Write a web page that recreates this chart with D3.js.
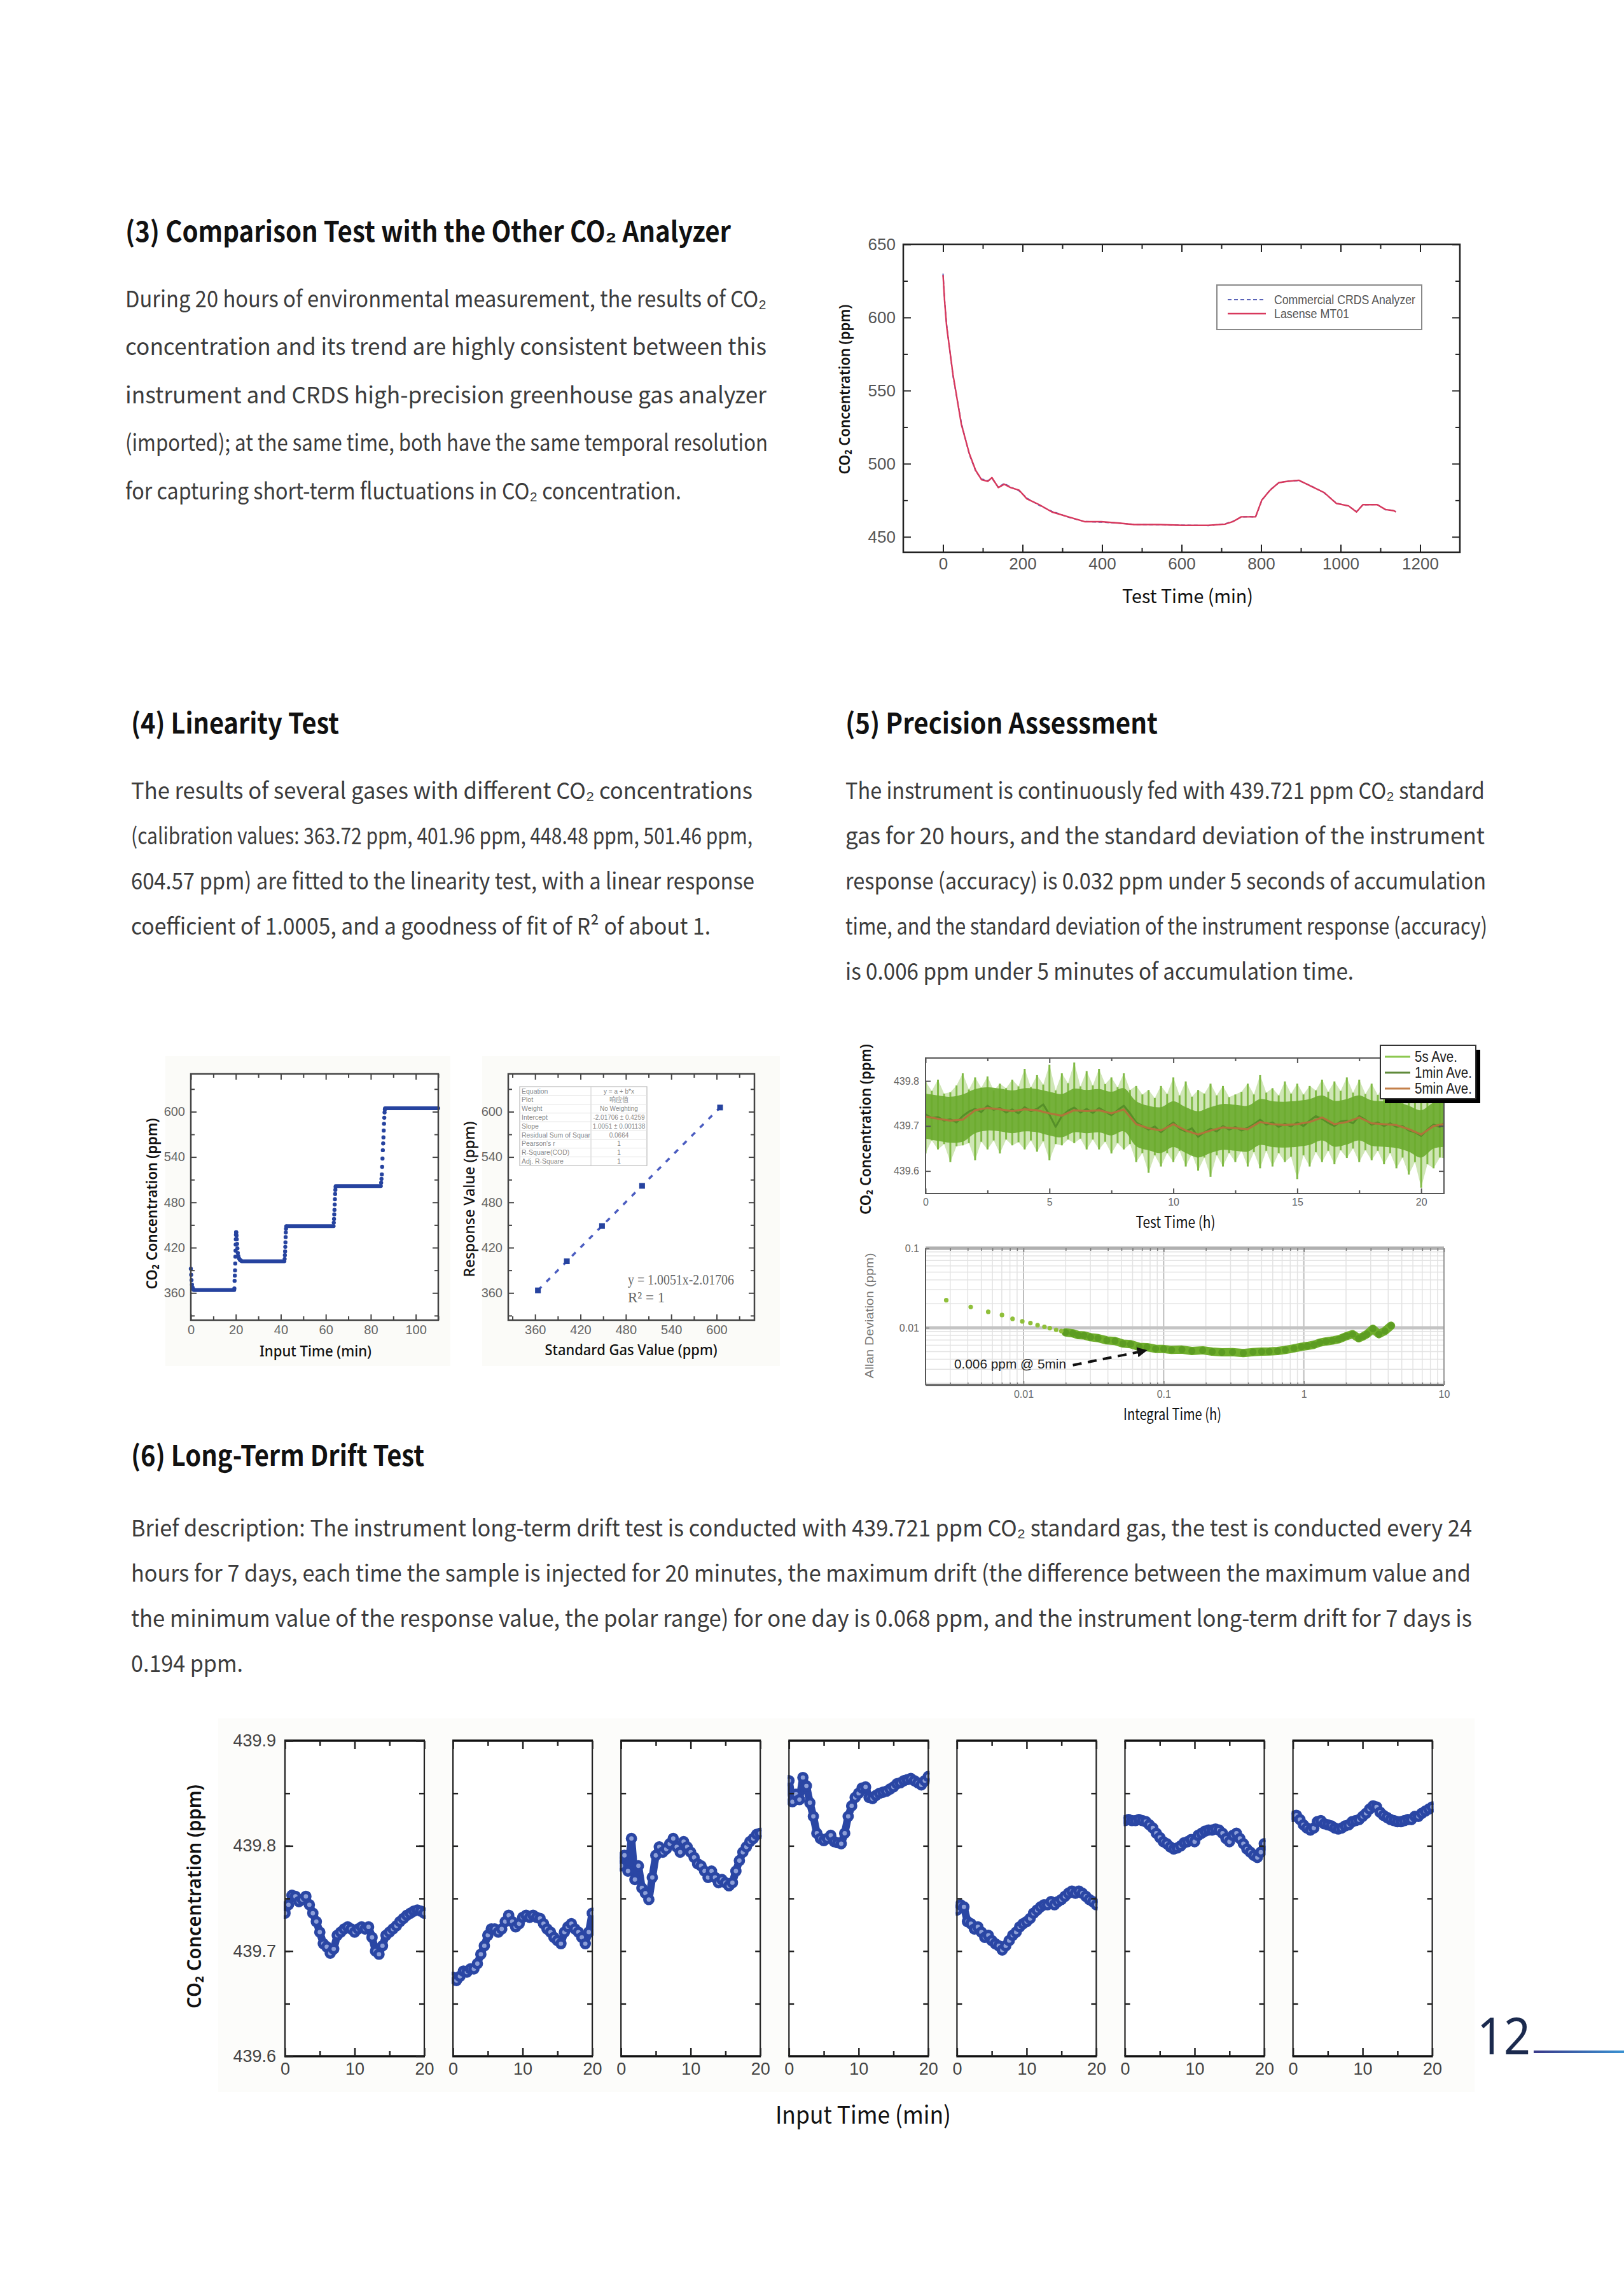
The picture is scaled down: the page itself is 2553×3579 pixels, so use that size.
<!DOCTYPE html>
<html><head><meta charset="utf-8">
<script src="https://cdn.jsdelivr.net/npm/d3@7"></script>
<style>body{margin:0;background:#fff}</style>
</head><body>
<svg id="page" width="2553" height="3579" xmlns="http://www.w3.org/2000/svg"></svg>
<script>
// ================= DATA =================
const heading3 = "(3) Comparison Test with the Other CO₂ Analyzer";
const para3 = [
 "During 20 hours of environmental measurement, the results of CO₂",
 "concentration and its trend are highly consistent between this",
 "instrument and CRDS high-precision greenhouse gas analyzer",
 "(imported); at the same time, both have the same temporal resolution",
 "for capturing short-term fluctuations in CO₂ concentration."];
const heading4 = "(4) Linearity Test";
const para4 = [
 "The results of several gases with different CO₂ concentrations",
 "(calibration values: 363.72 ppm, 401.96 ppm, 448.48 ppm, 501.46 ppm,",
 "604.57 ppm) are fitted to the linearity test, with a linear response",
 "coefficient of 1.0005, and a goodness of fit of R² of about 1."];
const heading5 = "(5) Precision Assessment";
const para5 = [
 "The instrument is continuously fed with 439.721 ppm CO₂ standard",
 "gas for 20 hours, and the standard deviation of the instrument",
 "response (accuracy) is 0.032 ppm under 5 seconds of accumulation",
 "time, and the standard deviation of the instrument response (accuracy)",
 "is 0.006 ppm under 5 minutes of accumulation time."];
const heading6 = "(6) Long-Term Drift Test";
const para6 = [
 "Brief description: The instrument long-term drift test is conducted with 439.721 ppm CO₂ standard gas, the test is conducted every 24",
 "hours for 7 days, each time the sample is injected for 20 minutes, the maximum drift (the difference between the maximum value and",
 "the minimum value of the response value, the polar range) for one day is 0.068 ppm, and the instrument long-term drift for 7 days is",
 "0.194 ppm."];

// Chart (3) comparison test
const c3Time    = [0,4,9,25,46,66,82,97,113,123,139,154,170,191,211,242,274,315,356,398,439,481,543,605,667,709,729,750,771,786,802,823,844,864,895,926,958,989,1020,1040,1056,1092,1113,1134,1139];
const c3Lasense = [629,611,594,561,527,507,495.5,489,488,490.5,483.7,486,483.7,482,476,472,467,463.7,460.4,460.4,459.5,458.4,458.4,457.9,457.9,458.7,460.4,463.7,463.7,463.7,475.3,482,487,487.9,488.7,484.6,480.4,472.9,471.2,467,472,472,468.7,467.9,467];
const c3Crds    = [630,611.5,595,560,528,506.5,495,489.5,488.5,490,484,486.5,484,481.5,476.5,471.5,467.5,463.5,460.5,460,459.5,458.5,458.2,458,457.7,458.9,460.6,463.5,463.9,463.5,475,482.3,486.8,488.1,488.5,484.8,480.2,473.1,471,467.3,471.8,472.2,468.5,468.1,467.2];
const c3Series  = ["Commercial CRDS Analyzer","Lasense MT01"];
const c3XTicks  = [0,200,400,600,800,1000,1200];
const c3XMinor  = [100,300,500,700,900,1100];
const c3YTicks  = [450,500,550,600,650];
const c3YMinor  = [475,525,575,625];

// Chart (4a) linearity time series
const linPlateauStart = [1.3, 22.6, 42.5, 64.4, 86.3];
const linPlateauEnd   = [19.3, 41.6, 63.5, 84.5, 110];
const linPlateauValue = [363.7, 402.0, 448.5, 501.5, 604.6];
const linTransTime  = [0,0.15,0.3,0.5,0.8,1.1, 19.35,19.45,19.55,19.65,19.75,19.82,19.88,19.94,20.0,20.06,20.12,20.2,20.3,20.42,20.55,20.7,20.88,21.1,21.4,21.8,22.2,
  41.7,41.8,41.9,41.98,42.06,42.14,42.22,42.32,42.45, 63.55,63.65,63.75,63.85,63.95,64.05,64.15,64.25,64.38,
  84.6,84.75,84.9,85.05,85.2,85.35,85.5,85.62,85.75,85.88,86.0,86.12,86.25];
const linTransValue = [392,384,377,371,367,365, 366,376,383,390,399,408,416,424,431,437,440.5,440,436,431,425,419,413,409,406,404,403,
  405,410,415,421,427,434,440,445,448, 453,458,464,470,477,484,491,496.5,500.5,
  506,511,517,527,538,549,558,566,575,584,592,599,603];
const linXTicks = [0,20,40,60,80,100];
const linXMinor = [10,30,50,70,90,110];
const linYTicks = [360,420,480,540,600];
const linYMinor = [330,390,450,510,570,630];

// Chart (4b) linear fit
const linStd  = [363.72,401.96,448.48,501.46,604.57];
const linResp = [363.4,401.9,448.6,501.8,605.5];
const linFitX = [363.72,604.57];
const linFitY = [363.55,605.64];
const stdXTicks = [360,420,480,540,600];
const stdXMinor = [330,390,450,510,570,630];
const fitTableLabels = ["Equation","Plot","Weight","Intercept","Slope","Residual Sum of Squar","Pearson's r","R-Square(COD)","Adj. R-Square"];
const fitTableValues = ["y = a + b*x","响应值","No Weighting","-2.01706 ± 0.4259","1.0051 ± 0.001138","0.0664","1","1","1"];
const fitEquation = ["y = 1.0051x-2.01706","R² = 1"];

// Chart (5a) 20 h precision time series
const pTime25 = [0,0.25,0.5,0.75,1,1.25,1.5,1.75,2,2.25,2.5,2.75,3,3.25,3.5,3.75,4,4.25,4.5,4.75,5,5.25,5.5,5.75,6,6.25,6.5,6.75,7,7.25,7.5,7.75,8,8.25,8.5,8.75,9,9.25,9.5,9.75,10,10.25,10.5,10.75,11,11.25,11.5,11.75,12,12.25,12.5,12.75,13,13.25,13.5,13.75,14,14.25,14.5,14.75,15,15.25,15.5,15.75,16,16.25,16.5,16.75,17,17.25,17.5,17.75,18,18.25,18.5,18.75,19,19.25,19.5,19.75,20,20.25,20.5,20.75,20.9];
const p5sHigh = [439.799,439.778,439.803,439.772, 439.775,439.790,439.817,439.781, 439.808,439.785,439.810,439.779, 439.794,439.784,439.803,439.788,
 439.827,439.786,439.813,439.792, 439.836,439.779,439.817,439.795, 439.841,439.788,439.822,439.790, 439.827,439.793,439.808,439.786,
 439.817,439.780,439.789,439.770, 439.780,439.762,439.789,439.771, 439.808,439.768,439.799,439.765, 439.780,439.772,439.794,439.768,
 439.789,439.764,439.770,439.776, 439.794,439.770,439.813,439.774, 439.784,439.768,439.799,439.772, 439.794,439.770,439.789,439.779,
 439.803,439.776,439.799,439.778, 439.808,439.774,439.803,439.771, 439.794,439.769,439.789,439.772, 439.799,439.766,439.780,439.762,
 439.784,439.760,439.770,439.758, 439.756];
const p5sLow = [439.639,439.668,439.648,439.660, 439.620,439.655,439.657,439.662, 439.624,439.665,439.648,439.668, 439.639,439.670,439.657,439.664,
 439.648,439.668,439.643,439.666, 439.624,439.660,439.657,439.670, 439.662,439.672,439.648,439.670, 439.648,439.665,439.639,439.662,
 439.648,439.660,439.620,439.640, 439.596,439.635,439.610,439.640, 439.620,439.645,439.610,439.638, 439.601,439.630,439.587,439.635,
 439.610,439.640,439.620,439.645, 439.610,439.642,439.606,439.645, 439.610,439.640,439.620,439.632, 439.582,439.635,439.610,439.642,
 439.620,439.645,439.615,439.646, 439.629,439.650,439.620,439.646, 439.624,439.645,439.615,439.640, 439.606,439.630,439.592,439.620,
 439.563,439.615,439.606,439.630, 439.629];
const p1min = [439.726,439.718,439.720,439.712, 439.715,439.708,439.722,439.732, 439.738,439.731,439.745,439.736, 439.740,439.730,439.737,439.728,
 439.742,439.733,439.738,439.748, 439.725,439.698,439.722,439.734, 439.741,439.730,439.738,439.729, 439.740,439.732,439.724,439.735,
 439.745,439.728,439.708,439.700, 439.692,439.699,439.686,439.698, 439.708,439.694,439.688,439.695, 439.676,439.686,439.694,439.688,
 439.700,439.692,439.698,439.690, 439.696,439.704,439.714,439.703, 439.708,439.698,439.705,439.699, 439.708,439.700,439.712,439.722,
 439.716,439.707,439.700,439.710, 439.712,439.706,439.722,439.714, 439.703,439.708,439.700,439.706, 439.698,439.700,439.690,439.686,
 439.678,439.692,439.703,439.698, 439.706];
const pTime50 = [0,0.5,1,1.5,2,2.5,3,3.5,4,4.5,5,5.5,6,6.5,7,7.5,8,8.5,9,9.5,10,10.5,11,11.5,12,12.5,13,13.5,14,14.5,15,15.5,16,16.5,17,17.5,18,18.5,19,19.5,20,20.5,20.9];
const p5min = [439.721,439.716,439.712,439.714,439.735,439.740,439.737,439.733,439.737,439.735,439.728,439.723,439.735,439.733,439.735,439.728,439.737,439.704,439.695,439.690,439.704,439.690,439.681,439.690,439.697,439.695,439.693,439.709,439.704,439.702,439.704,439.709,439.719,439.704,439.709,439.719,439.706,439.704,439.702,439.693,439.681,439.700,439.704];
const pCoreHigh = [439.772,439.768,439.765,439.770,439.782,439.786,439.783,439.779,439.784,439.782,439.776,439.771,439.783,439.780,439.782,439.776,439.784,439.755,439.745,439.742,439.755,439.742,439.733,439.742,439.749,439.747,439.745,439.760,439.755,439.754,439.756,439.760,439.768,439.756,439.760,439.768,439.757,439.755,439.753,439.745,439.735,439.752,439.755];
const pCoreLow  = [439.672,439.667,439.663,439.665,439.684,439.690,439.688,439.684,439.688,439.686,439.679,439.675,439.686,439.684,439.686,439.679,439.688,439.655,439.646,439.640,439.653,439.640,439.630,439.640,439.647,439.645,439.643,439.658,439.653,439.652,439.654,439.658,439.668,439.654,439.659,439.668,439.656,439.654,439.651,439.643,439.630,439.650,439.653];
const pSeries = ["5s Ave.","1min Ave.","5min Ave."];
const pXTicks = [0,5,10,15,20];
const pXMinor = [2.5,7.5,12.5,17.5];
const pYTicks = [439.6,439.7,439.8];

// Chart (5b) Allan deviation
const allanTauSparse = [0.00281,0.0042,0.0056,0.00702,0.00835,0.0098,0.0112,0.0126,0.0141,0.0154,0.0171,0.0186];
const allanDevSparse = [0.0222,0.01825,0.01585,0.01445,0.01294,0.01202,0.01145,0.01076,0.01026,0.00988,0.0094,0.0091];
const allanTauDense = [0.020,0.0225,0.0246,0.027,0.0301,0.034,0.0393,0.045,0.0513,0.058,0.067,0.076,0.0876,0.1,0.114,0.135,0.159,0.19,0.222,0.26,0.31,0.37,0.434,0.5,0.566,0.65,0.737,0.85,0.962,1.06,1.18,1.3,1.44,1.6,1.77,1.9,2.02,2.23,2.46,2.65,2.82,3.11,3.43,3.79,4.19];
const allanDevDense = [0.00873,0.0085,0.00807,0.0080,0.00759,0.0074,0.00692,0.0068,0.00631,0.0062,0.00575,0.0057,0.00541,0.0054,0.00525,0.0053,0.0051,0.0052,0.0050,0.0049,0.00494,0.0048,0.00494,0.0050,0.00502,0.0051,0.00525,0.0055,0.00575,0.0059,0.0061,0.0065,0.00672,0.0069,0.00714,0.0075,0.00784,0.0083,0.00738,0.0078,0.0083,0.0097,0.0083,0.0091,0.0106];
const allanXTicks = [0.01,0.1,1,10];
const allanYTicks = [0.01,0.1];
const allanXGrid = [0.002,0.003,0.004,0.005,0.006,0.007,0.008,0.009,0.01,0.02,0.03,0.04,0.05,0.06,0.07,0.08,0.09,0.1,0.2,0.3,0.4,0.5,0.6,0.7,0.8,0.9,1,2,3,4,5,6,7,8,9,10];
const allanYGrid = [0.002,0.003,0.004,0.005,0.006,0.007,0.008,0.009,0.01,0.02,0.03,0.04,0.05,0.06,0.07,0.08,0.09,0.1];
const allanNote = "0.006 ppm @ 5min";

// Chart (6) long-term drift, 7 daily injections
const driftTime = [0,0.5,1,1.5,2,2.5,3,3.5,4,4.5,5,5.5,6,6.5,7,7.5,8,8.5,9,9.5,10,10.5,11,11.5,12,12.5,13,13.5,14,14.5,15,15.5,16,16.5,17,17.5,18,18.5,19,19.5,20];
const driftDay1 = [439.736,439.744,439.753,439.752,439.747,439.749,439.752,439.744,439.736,439.728,439.718,439.707,439.704,439.698,439.702,439.715,439.718,439.721,439.723,439.721,439.718,439.721,439.723,439.721,439.723,439.713,439.700,439.697,439.705,439.715,439.718,439.721,439.724,439.728,439.731,439.734,439.736,439.738,439.739,439.738,439.736];
const driftDay2 = [439.675,439.672,439.676,439.681,439.680,439.683,439.683,439.688,439.697,439.705,439.715,439.721,439.721,439.718,439.721,439.728,439.734,439.728,439.723,439.726,439.732,439.734,439.732,439.734,439.732,439.731,439.726,439.721,439.718,439.713,439.710,439.707,439.718,439.723,439.726,439.721,439.718,439.713,439.707,439.718,439.736];
const driftDay3 = [439.781,439.791,439.776,439.807,439.768,439.781,439.760,439.755,439.749,439.770,439.791,439.799,439.794,439.797,439.802,439.807,439.799,439.794,439.804,439.799,439.794,439.789,439.783,439.781,439.776,439.770,439.776,439.770,439.765,439.768,439.765,439.762,439.765,439.776,439.786,439.794,439.799,439.804,439.807,439.811,439.812];
const driftDay4 = [439.862,439.842,439.849,439.844,439.865,439.857,439.841,439.828,439.812,439.807,439.805,439.807,439.810,439.804,439.803,439.802,439.812,439.828,439.838,439.846,439.850,439.855,439.856,439.846,439.845,439.848,439.850,439.851,439.852,439.854,439.856,439.859,439.860,439.862,439.863,439.864,439.862,439.860,439.858,439.862,439.866];
const driftDay5 = [439.739,439.744,439.742,439.728,439.726,439.721,439.723,439.718,439.713,439.715,439.710,439.707,439.705,439.701,439.705,439.710,439.715,439.718,439.723,439.726,439.728,439.731,439.736,439.739,439.742,439.744,439.744,439.747,439.744,439.747,439.749,439.752,439.755,439.757,439.755,439.757,439.755,439.752,439.749,439.747,439.744];
const driftDay6 = [439.824,439.825,439.824,439.824,439.825,439.824,439.823,439.820,439.817,439.812,439.808,439.804,439.802,439.799,439.797,439.798,439.800,439.803,439.804,439.806,439.804,439.810,439.812,439.814,439.815,439.815,439.816,439.815,439.812,439.807,439.804,439.810,439.812,439.807,439.802,439.797,439.794,439.791,439.789,439.794,439.802];
const driftDay7 = [439.828,439.829,439.825,439.820,439.817,439.815,439.817,439.823,439.824,439.821,439.820,439.819,439.817,439.816,439.817,439.819,439.820,439.823,439.824,439.825,439.828,439.831,439.835,439.838,439.837,439.832,439.829,439.827,439.825,439.824,439.823,439.823,439.824,439.825,439.825,439.828,439.828,439.831,439.833,439.835,439.837];
const driftXTicks = [0,10,20];
const driftXMinor = [5,15];
const driftYTicks = [439.6,439.7,439.8,439.9];
const driftYSide  = [439.65,439.7,439.75,439.8,439.85];
const pageNumber = "12";

// ================= DRAWING =================
const BODY = "'Noto Sans CJK SC','Noto Sans CJK JP','Source Sans Pro',sans-serif";
const WIDE = "'Noto Sans','Open Sans',sans-serif";
const ARIAL = "'Liberation Sans',Arial,sans-serif";
const NARROW = "'Liberation Sans Narrow','Arial Narrow','Liberation Sans',sans-serif";
const SERIF = "'Liberation Serif','Times New Roman',serif";

const svg = d3.select('#page');
svg.append('rect').attr('width',2553).attr('height',3579).attr('fill','#fff');
const defs = svg.append('defs');

function txt(parent, o){
  const t = parent.append('text').attr('x', o.x).attr('y', o.y)
    .attr('font-family', o.font || BODY).attr('font-size', o.fs)
    .attr('font-weight', o.w || 400).attr('fill', o.fill || '#333')
    .attr('text-anchor', o.anchor || 'start').text(o.s);
  if (o.rot) t.attr('transform', `rotate(${o.rot},${o.x},${o.y})`);
  if (o.len) t.attr('textLength', o.len).attr('lengthAdjust', 'spacingAndGlyphs');
  return t;
}
function axes(g, x, y, o){
  const W = x.range()[1], H = y.range()[0];
  const blank = () => '';
  function one(fn, scale, vals, len, fmt, pad, tx, ty){
    if (!vals || !vals.length) return;
    const a = fn(scale).tickValues(vals).tickSizeInner(-len).tickSizeOuter(0)
      .tickPadding(pad || 0).tickFormat(fmt || blank);
    const ag = g.append('g').attr('transform', `translate(${tx},${ty})`).call(a);
    ag.select('.domain').remove();
    ag.selectAll('.tick line').attr('stroke', o.tc || '#222').attr('stroke-width', o.tw || 2);
    ag.selectAll('.tick text').attr('font-family', o.font).attr('font-size', o.fs).attr('fill', o.lc || '#555');
    if (!fmt) ag.selectAll('.tick text').remove();
  }
  one(d3.axisBottom, x, o.xMaj, o.maj, o.xFmt, o.xPad, 0, H);
  one(d3.axisBottom, x, o.xMin, o.min, null, 0, 0, H);
  one(d3.axisLeft, y, o.yMaj, o.maj, o.yFmt, o.yPad, 0, 0);
  one(d3.axisLeft, y, o.yMin, o.min, null, 0, 0, 0);
  if (o.top !== false){ one(d3.axisTop, x, o.xMaj, o.maj, null, 0, 0, 0); one(d3.axisTop, x, o.xMin, o.min, null, 0, 0, 0); }
  if (o.right !== false){ one(d3.axisRight, y, o.yMaj, o.maj, null, 0, W, 0); one(d3.axisRight, y, o.yMin, o.min, null, 0, W, 0); }
}
function box(g, W, H, c, w){
  g.append('rect').attr('x',0).attr('y',0).attr('width',W).attr('height',H)
    .attr('fill','none').attr('stroke',c).attr('stroke-width',w);
}

// ---------- Text blocks ----------
txt(svg,{x:197,y:380,s:heading3,fs:44,w:700,fill:'#111',len:952});
const p3len=[1008,1008,1008,1010,874], p3y=[483,558,634,709,785];
para3.forEach((s,i)=>txt(svg,{x:197,y:p3y[i],s,fs:36,fill:'#3c3c3c',len:p3len[i]}));

txt(svg,{x:206,y:1153,s:heading4,fs:44,w:700,fill:'#111',len:327});
txt(svg,{x:1329,y:1153,s:heading5,fs:44,w:700,fill:'#111',len:491});
const pLy=[1256,1327,1398,1469,1540];
const p4len=[977,977,980,911];
para4.forEach((s,i)=>txt(svg,{x:206,y:pLy[i],s,fs:36,fill:'#3c3c3c',len:p4len[i]}));
const p5len=[1005,1005,1007,1009,799];
para5.forEach((s,i)=>txt(svg,{x:1329,y:pLy[i],s,fs:36,fill:'#3c3c3c',len:p5len[i]}));

txt(svg,{x:206,y:2304,s:heading6,fs:44,w:700,fill:'#111',len:461});
const p6y=[2415,2486,2557,2628], p6len=[2108,2106,2108,176];
para6.forEach((s,i)=>txt(svg,{x:206,y:p6y[i],s,fs:36,fill:'#3c3c3c',len:p6len[i]}));

// ---------- Chart (3) ----------
(function(){
  const L=1420,R=2295,T=384,B=868, W=R-L, H=B-T;
  const g = svg.append('g').attr('transform',`translate(${L},${T})`);
  const x = d3.scaleLinear().domain([-100,1300]).range([0,W]);
  const y = d3.scaleLinear().domain([439.5,650]).range([H,0]);
  const ln = d3.line().x((d,i)=>x(c3Time[i])).y(d=>y(d));
  g.append('path').attr('d',ln(c3Crds)).attr('fill','none').attr('stroke','#5a63b8').attr('stroke-width',2).attr('stroke-dasharray','6,4');
  g.append('path').attr('d',ln(c3Lasense)).attr('fill','none').attr('stroke','#d8385c').attr('stroke-width',2.4).attr('stroke-linejoin','round');
  box(g,W,H,'#222',2.5);
  axes(g,x,y,{xMaj:c3XTicks,xMin:c3XMinor,yMaj:c3YTicks,yMin:c3YMinor,maj:12,min:7,xPad:9,yPad:12,
    xFmt:d3.format('d'),yFmt:d3.format('d'),font:NARROW,fs:26,lc:'#555',tc:'#222',tw:2});
  const lg = svg.append('g');
  lg.append('rect').attr('x',1913).attr('y',448).attr('width',322).attr('height',70).attr('fill','#fff').attr('stroke','#888').attr('stroke-width',2);
  lg.append('line').attr('x1',1930).attr('x2',1990).attr('y1',471).attr('y2',471).attr('stroke','#5a63b8').attr('stroke-width',2).attr('stroke-dasharray','6,4');
  lg.append('line').attr('x1',1930).attr('x2',1990).attr('y1',493).attr('y2',493).attr('stroke','#d8385c').attr('stroke-width',2.4);
  txt(lg,{x:2003,y:478,s:c3Series[0],fs:20,font:NARROW,fill:'#555',len:222});
  txt(lg,{x:2003,y:500,s:c3Series[1],fs:20,font:NARROW,fill:'#555',len:118});
  txt(svg,{x:1336,y:612,s:"CO₂ Concentration (ppm)",fs:24,w:600,font:WIDE,fill:'#111',anchor:'middle',rot:-90,len:267});
  txt(svg,{x:1867,y:948,s:"Test Time (min)",fs:30,font:BODY,fill:'#111',anchor:'middle',len:206});
})();

// ---------- Chart (4a) ----------
(function(){
  svg.append('rect').attr('x',260).attr('y',1660).attr('width',448).attr('height',487).attr('fill','#fbfbf8');
  svg.append('rect').attr('x',758).attr('y',1660).attr('width',468).attr('height',487).attr('fill','#fbfbf8');
  const L=300,R=689,T=1688,B=2075,W=R-L,H=B-T;
  const g = svg.append('g').attr('transform',`translate(${L},${T})`);
  g.append('rect').attr('width',W).attr('height',H).attr('fill','#fff');
  const x = d3.scaleLinear().domain([0,110]).range([0,W]);
  const y = d3.scaleLinear().domain([324,650]).range([H,0]);
  const blue = '#26439f';
  g.selectAll('line.plat').data(linPlateauValue).join('line').attr('class','plat')
    .attr('x1',(d,i)=>x(linPlateauStart[i])).attr('x2',(d,i)=>x(linPlateauEnd[i]))
    .attr('y1',d=>y(d)).attr('y2',d=>y(d)).attr('stroke',blue).attr('stroke-width',6).attr('stroke-linecap','round');
  g.selectAll('circle').data(linTransValue).join('circle')
    .attr('cx',(d,i)=>x(linTransTime[i])).attr('cy',d=>y(d)).attr('r',3.2).attr('fill',blue);
  box(g,W,H,'#444',2.5);
  axes(g,x,y,{xMaj:linXTicks,xMin:linXMinor,yMaj:linYTicks,yMin:linYMinor,maj:9,min:6,xPad:8,yPad:9,
    xFmt:d3.format('d'),yFmt:d3.format('d'),font:NARROW,fs:20,lc:'#666',tc:'#444',tw:2});
  txt(svg,{x:247,y:1892,s:"CO₂ Concentration (ppm)",fs:24,w:600,font:WIDE,fill:'#111',anchor:'middle',rot:-90,len:269});
  txt(svg,{x:496,y:2132,s:"Input Time (min)",fs:24,w:500,font:WIDE,fill:'#111',anchor:'middle',len:176});
})();

// ---------- Chart (4b) ----------
(function(){
  const L=799,R=1186,T=1688,B=2075,W=R-L,H=B-T;
  const g = svg.append('g').attr('transform',`translate(${L},${T})`);
  g.append('rect').attr('width',W).attr('height',H).attr('fill','#fff');
  const x = d3.scaleLinear().domain([324.5,650]).range([0,W]);
  const y = d3.scaleLinear().domain([324,650]).range([H,0]);
  const blue = '#26439f';
  g.append('line').attr('x1',x(linFitX[0])).attr('x2',x(linFitX[1])).attr('y1',y(linFitY[0])).attr('y2',y(linFitY[1]))
    .attr('stroke','#4a5cc0').attr('stroke-width',3.5).attr('stroke-dasharray','8,11');
  g.selectAll('rect.pt').data(linResp).join('rect').attr('class','pt')
    .attr('x',(d,i)=>x(linStd[i])-4.5).attr('y',d=>y(d)-4.5).attr('width',9).attr('height',9).attr('fill',blue);
  box(g,W,H,'#444',2.5);
  axes(g,x,y,{xMaj:stdXTicks,xMin:stdXMinor,yMaj:linYTicks,yMin:linYMinor,maj:9,min:6,xPad:8,yPad:9,
    xFmt:d3.format('d'),yFmt:d3.format('d'),font:NARROW,fs:20,lc:'#666',tc:'#444',tw:2});
  const tb = svg.append('g');
  const tx0=817, tx1=1017, tmid=929, ty0=1708, rh=13.8;
  tb.append('rect').attr('x',tx0).attr('y',ty0).attr('width',tx1-tx0).attr('height',rh*9).attr('fill','#fff').attr('stroke','#bbb').attr('stroke-width',1.2);
  tb.append('line').attr('x1',tmid).attr('x2',tmid).attr('y1',ty0).attr('y2',ty0+rh*9).attr('stroke','#ccc').attr('stroke-width',1);
  fitTableLabels.forEach((s,i)=>{
    if (i>0) tb.append('line').attr('x1',tx0).attr('x2',tx1).attr('y1',ty0+rh*i).attr('y2',ty0+rh*i).attr('stroke','#e2e2e2').attr('stroke-width',1);
    txt(tb,{x:tx0+3,y:ty0+rh*i+10.5,s,fs:10.5,font:ARIAL,fill:'#888'});
    txt(tb,{x:(tmid+tx1)/2,y:ty0+rh*i+10.5,s:fitTableValues[i],fs:10,font:i===1?BODY:ARIAL,fill:'#888',anchor:'middle'});
  });
  txt(svg,{x:987,y:2019,s:fitEquation[0],fs:23,font:SERIF,fill:'#666',len:167});
  txt(svg,{x:987,y:2047,s:fitEquation[1],fs:23,font:SERIF,fill:'#666'});
  txt(svg,{x:746,y:1885,s:"Response Value (ppm)",fs:24,w:500,font:WIDE,fill:'#111',anchor:'middle',rot:-90,len:245});
  txt(svg,{x:992,y:2130,s:"Standard Gas Value (ppm)",fs:24,w:500,font:WIDE,fill:'#111',anchor:'middle',len:271});
})();

// ---------- Chart (5a) ----------
(function(){
  const L=1455,R=2270,T=1663,B=1876,W=R-L,H=B-T;
  const g = svg.append('g').attr('transform',`translate(${L},${T})`);
  const x = d3.scaleLinear().domain([0,20.92]).range([0,W]);
  const y = d3.scaleLinear().domain([439.55,439.851]).range([H,0]);
  g.append('clipPath').attr('id','clip5a').append('rect').attr('width',W).attr('height',H);
  const cg = g.append('g').attr('clip-path','url(#clip5a)');
  const area25 = d3.area().x((d,i)=>x(pTime25[i])).y0((d,i)=>y(p5sLow[i])).y1(d=>y(d));
  cg.append('path').attr('d',area25(p5sHigh)).attr('fill','#a9d27c').attr('opacity',0.55);
  cg.selectAll('line.hair').data(p5sHigh).join('line').attr('class','hair')
    .attr('x1',(d,i)=>x(pTime25[i])).attr('x2',(d,i)=>x(pTime25[i]))
    .attr('y1',d=>y(d)).attr('y2',(d,i)=>y(p5sLow[i]))
    .attr('stroke','#80ba45').attr('stroke-width',3);
  const area50 = d3.area().x((d,i)=>x(pTime50[i])).y0((d,i)=>y(pCoreLow[i])).y1(d=>y(d)).curve(d3.curveCatmullRom);
  cg.append('path').attr('d',area50(pCoreHigh)).attr('fill','#6aab2e').attr('opacity',0.9);
  const line25 = d3.line().x((d,i)=>x(pTime25[i])).y(d=>y(d));
  cg.append('path').attr('d',line25(p1min)).attr('fill','none').attr('stroke','#558f28').attr('stroke-width',3).attr('stroke-linejoin','round');
  const line50 = d3.line().x((d,i)=>x(pTime50[i])).y(d=>y(d));
  cg.append('path').attr('d',line50(p5min)).attr('fill','none').attr('stroke','#b0743a').attr('stroke-width',3.2).attr('stroke-linejoin','round');
  box(g,W,H,'#555',2);
  axes(g,x,y,{xMaj:pXTicks,xMin:pXMinor,yMaj:pYTicks,yMin:[],maj:8,min:5,xPad:8,yPad:10,
    xFmt:d3.format('d'),yFmt:d3.format('.1f'),font:ARIAL,fs:16,lc:'#666',tc:'#555',tw:2});
  const lg = svg.append('g');
  lg.append('rect').attr('x',2177).attr('y',1650).attr('width',150).attr('height',84).attr('fill','#000');
  lg.append('rect').attr('x',2170).attr('y',1643).attr('width',150).attr('height',84).attr('fill','#fff').attr('stroke','#333').attr('stroke-width',2);
  const lc = ['#8cc850','#5f8a3a','#c4804a'];
  pSeries.forEach((s,i)=>{
    const yy = 1661 + i*25;
    lg.append('line').attr('x1',2177).attr('x2',2217).attr('y1',yy).attr('y2',yy).attr('stroke',lc[i]).attr('stroke-width',3);
    txt(lg,{x:2224,y:yy+8,s,fs:23,font:NARROW,fill:'#222',len:i===0?67:90});
  });
  txt(svg,{x:1369,y:1775,s:"CO₂ Concentration (ppm)",fs:23,w:600,font:WIDE,fill:'#111',anchor:'middle',rot:-90,len:268});
  txt(svg,{x:1848,y:1930,s:"Test Time (h)",fs:25,font:BODY,fill:'#111',anchor:'middle',len:125});
})();

// ---------- Chart (5b) ----------
(function(){
  const L=1455,R=2270,T=1962,B=2177,W=R-L,H=B-T;
  const g = svg.append('g').attr('transform',`translate(${L},${T})`);
  const x = d3.scaleLog().domain([0.002,10]).range([0,W]);
  const y = d3.scaleLog().domain([0.0019,0.1]).range([H,0]);
  g.selectAll('line.gx').data(allanXGrid).join('line').attr('class','gx')
    .attr('x1',d=>x(d)).attr('x2',d=>x(d)).attr('y1',0).attr('y2',H)
    .attr('stroke',d=>allanXTicks.includes(d)?'#bdbdbd':'#e3e3e3').attr('stroke-width',d=>allanXTicks.includes(d)?2:1.5);
  g.selectAll('line.gy').data(allanYGrid).join('line').attr('class','gy')
    .attr('y1',d=>y(d)).attr('y2',d=>y(d)).attr('x1',0).attr('x2',W)
    .attr('stroke',d=>allanYTicks.includes(d)?'#c4c4c4':'#e3e3e3').attr('stroke-width',d=>allanYTicks.includes(d)?5:1.5);
  const ln = d3.line().x((d,i)=>x(allanTauDense[i])).y(d=>y(d));
  g.append('path').attr('d',ln(allanDevDense)).attr('fill','none').attr('stroke','#6fae2c').attr('stroke-width',13).attr('stroke-linejoin','round').attr('stroke-linecap','round');
  g.selectAll('circle.dn').data(allanDevDense).join('circle').attr('class','dn')
    .attr('cx',(d,i)=>x(allanTauDense[i])).attr('cy',d=>y(d)).attr('r',5.5).attr('fill','#5c9c22');
  g.selectAll('circle.sp').data(allanDevSparse).join('circle').attr('class','sp')
    .attr('cx',(d,i)=>x(allanTauSparse[i])).attr('cy',d=>y(d)).attr('r',3.6).attr('fill','#8fbf3a');
  g.append('line').attr('x1',0).attr('x2',W).attr('y1',0).attr('y2',0).attr('stroke','#b0b0b0').attr('stroke-width',5);
  g.append('line').attr('x1',0).attr('x2',0).attr('y1',0).attr('y2',H).attr('stroke','#555').attr('stroke-width',2);
  g.append('line').attr('x1',0).attr('x2',W).attr('y1',H).attr('y2',H).attr('stroke','#444').attr('stroke-width',2.5);
  g.append('line').attr('x1',W).attr('x2',W).attr('y1',0).attr('y2',H).attr('stroke','#999').attr('stroke-width',2);
  axes(g,x,y,{xMaj:allanXTicks,xMin:allanXGrid.filter(v=>!allanXTicks.includes(v)),yMaj:allanYTicks,yMin:[],maj:6,min:4,xPad:9,yPad:10,
    xFmt:d=>String(d),yFmt:d=>String(d),font:ARIAL,fs:16,lc:'#666',tc:'#777',tw:1.5,right:false});
  defs.append('marker').attr('id','ah').attr('viewBox','0 0 10 10').attr('refX',8).attr('refY',5)
    .attr('markerWidth',4).attr('markerHeight',4).attr('orient','auto')
    .append('path').attr('d','M0,0L10,5L0,10z').attr('fill','#111');
  g.append('line').attr('x1',x(0.0225)).attr('y1',y(0.00338)).attr('x2',x(0.074)).attr('y2',y(0.00515))
    .attr('stroke','#111').attr('stroke-width',4).attr('stroke-dasharray','14,10').attr('marker-end','url(#ah)');
  txt(g,{x:x(0.0032),y:y(0.00354)+8,s:allanNote,fs:21,font:NARROW,fill:'#222',len:176});
  txt(svg,{x:1373,y:2068,s:"Allan Deviation (ppm)",fs:18,font:ARIAL,fill:'#777',anchor:'middle',rot:-90,len:197});
  txt(svg,{x:1843,y:2232,s:"Integral Time (h)",fs:25,font:BODY,fill:'#111',anchor:'middle',len:154});
})();

// ---------- Chart (6) ----------
(function(){
  svg.append('rect').attr('x',343).attr('y',2701).attr('width',1975).attr('height',587).attr('fill','#fcfcfa');
  const driftDays = [driftDay1,driftDay2,driftDay3,driftDay4,driftDay5,driftDay6,driftDay7];
  const L0=448, step=264.1, W=219, T=2736, B=3232, H=B-T;
  const y = d3.scaleLinear().domain([439.6,439.9]).range([H,0]);
  driftDays.forEach((vals,k)=>{
    const g = svg.append('g').attr('transform',`translate(${L0+k*step},${T})`);
    g.append('rect').attr('width',W).attr('height',H).attr('fill','#fff');
    const x = d3.scaleLinear().domain([0,20]).range([0,W]);
    const cp = 'clipd'+k;
    g.append('clipPath').attr('id',cp).append('rect').attr('x',-2).attr('y',0).attr('width',W+4).attr('height',H);
    const dg = g.append('g').attr('clip-path',`url(#${cp})`);
    const ln = d3.line().x((d,i)=>x(driftTime[i])).y(d=>y(d));
    dg.append('path').attr('d',ln(vals)).attr('fill','none').attr('stroke','#2a46a4').attr('stroke-width',12)
      .attr('stroke-linejoin','round').attr('stroke-linecap','round');
    dg.selectAll('circle').data(vals).join('circle')
      .attr('cx',(d,i)=>x(driftTime[i])).attr('cy',d=>y(d)).attr('r',6.2)
      .attr('fill','#8d9fd8').attr('stroke','#2a46a4').attr('stroke-width',5.5);
    g.append('line').attr('x1',0).attr('x2',0).attr('y1',0).attr('y2',H).attr('stroke','#222').attr('stroke-width',2.2);
    g.append('line').attr('x1',W).attr('x2',W).attr('y1',0).attr('y2',H).attr('stroke','#222').attr('stroke-width',2.2);
    g.append('line').attr('x1',-1).attr('x2',W+1).attr('y1',0).attr('y2',0).attr('stroke','#111').attr('stroke-width',3.5);
    g.append('line').attr('x1',-1).attr('x2',W+1).attr('y1',H).attr('y2',H).attr('stroke','#111').attr('stroke-width',3.5);
    axes(g,x,y,{xMaj:driftXTicks,xMin:driftXMinor,yMaj:k===0?driftYTicks:[],yMin:driftYSide,maj:13,min:8,xPad:10,yPad:14,
      xFmt:d3.format('d'),yFmt:d3.format('.1f'),font:ARIAL,fs:27,lc:'#444',tc:'#222',tw:2.5});
  });
  txt(svg,{x:316,y:2981,s:"CO₂ Concentration (ppm)",fs:30,w:600,font:WIDE,fill:'#111',anchor:'middle',rot:-90,len:352});
  txt(svg,{x:1357,y:3338,s:"Input Time (min)",fs:38,font:BODY,fill:'#111',anchor:'middle',len:276});
})();

// ---------- Page number ----------
(function(){
  const gr = defs.append('linearGradient').attr('id','pg').attr('x1','0%').attr('x2','100%');
  gr.append('stop').attr('offset','0%').attr('stop-color','#3a3a8a');
  gr.append('stop').attr('offset','100%').attr('stop-color','#3a92d2');
  txt(svg,{x:2322,y:3229,s:pageNumber,fs:80,font:WIDE,fill:'#1b2a4e',len:84});
  svg.append('rect').attr('x',2411).attr('y',3223).attr('width',142).attr('height',4).attr('fill','url(#pg)');
})();
</script>
</body></html>
